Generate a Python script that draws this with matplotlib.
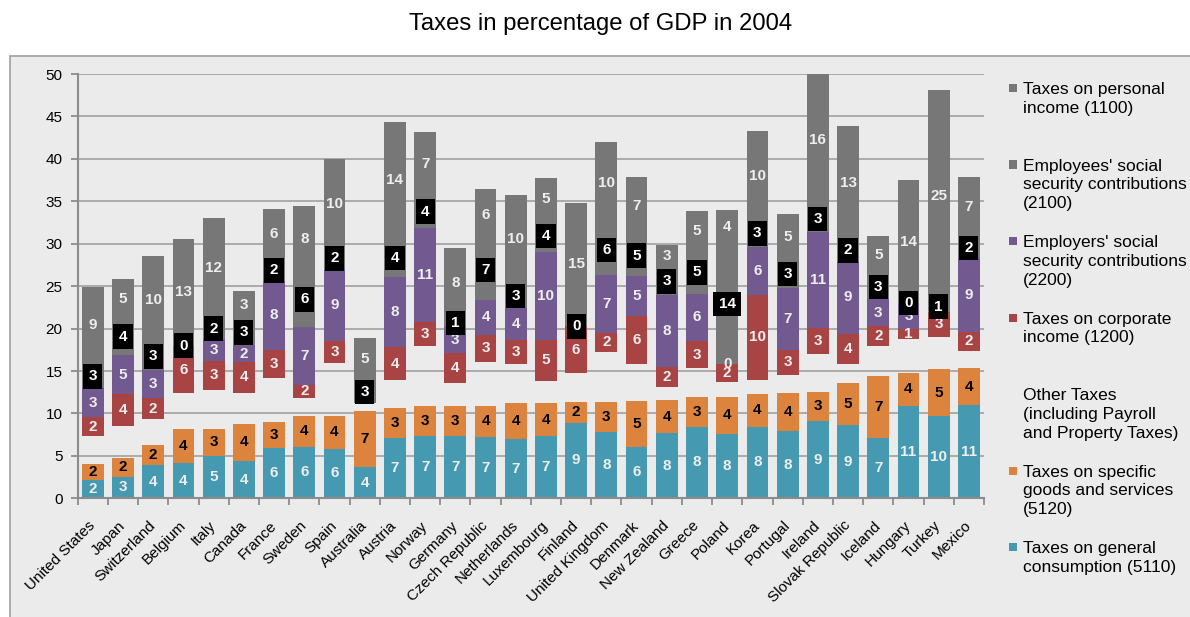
import numpy as np
import matplotlib.pyplot as plt
from matplotlib.patches import Rectangle

plt.rcParams['font.family'] = ['Liberation Sans', 'DejaVu Sans']

countries = ['United States', 'Japan', 'Switzerland', 'Belgium', 'Italy', 'Canada',
             'France', 'Sweden', 'Spain', 'Australia', 'Austria', 'Norway', 'Germany',
             'Czech Republic', 'Netherlands', 'Luxembourg', 'Finland', 'United Kingdom',
             'Denmark', 'New Zealand', 'Greece', 'Poland', 'Korea', 'Portugal',
             'Ireland', 'Slovak Republic', 'Iceland', 'Hungary', 'Turkey', 'Mexico']

# % of GDP, bottom to top of each column
general = [2.16, 2.55, 3.93, 4.12, 4.99, 4.40, 5.97, 6.09, 5.85, 3.69, 7.15, 7.38, 7.38,
           7.23, 6.99, 7.38, 8.92, 7.86, 6.09, 7.66, 8.44, 7.55, 8.44, 7.93, 9.11,
           8.64, 7.15, 10.92, 9.74, 11.00]
specific = [1.89, 2.20, 2.35, 4.05, 3.18, 4.36, 3.02, 3.61, 3.85, 6.64, 3.45, 3.45, 3.45,
            3.69, 4.28, 3.81, 2.47, 3.45, 5.42, 3.93, 3.45, 4.43, 3.85, 4.45, 3.45,
            4.99, 7.26, 3.89, 5.45, 4.32]
other = [3.29, 3.77, 3.07, 4.20, 4.60, 3.69, 5.23, 2.16, 6.21, 0.85, 3.34, 7.16, 2.72,
         5.18, 4.56, 2.67, 3.34, 5.97, 4.28, 1.57, 3.43, 1.77, 1.65, 2.15, 4.45,
         2.16, 3.54, 3.96, 3.86, 2.04]
corporate = [2.20, 3.77, 2.45, 5.55, 3.45, 3.60, 3.26, 1.55, 2.60, 0.00, 3.85, 2.83, 3.54,
             3.15, 2.83, 4.80, 5.55, 2.16, 5.69, 2.35, 3.22, 2.08, 10.02, 2.95, 3.02,
             3.60, 2.36, 1.14, 2.90, 2.28]
employers = [3.40, 4.55, 3.34, 0.05, 2.55, 2.02, 8.17, 6.82, 8.55, 0.00, 8.33, 11.07, 3.07,
             4.12, 3.73, 10.41, 0.00, 6.88, 4.72, 8.45, 5.54, 0.00, 5.69, 7.34, 11.39,
             8.60, 3.14, 3.10, 0.05, 8.64]
employees = [2.90, 4.40, 3.14, 0.00, 2.45, 2.98, 2.45, 6.45, 2.45, 2.70, 4.40, 3.78, 1.00,
             7.06, 2.90, 3.68, 0.00, 5.88, 4.78, 3.22, 5.10, 14.14, 3.14, 3.22, 2.98,
             2.45, 2.90, 0.00, 1.20, 2.45]
personal = [9.06, 4.60, 10.27, 12.59, 11.81, 3.38, 5.99, 7.81, 10.45, 5.01, 13.86, 7.45, 8.38,
            6.02, 10.45, 4.96, 14.55, 9.83, 6.92, 2.67, 4.68, 4.00, 10.45, 5.46, 15.60,
            13.43, 4.56, 14.45, 24.86, 7.09]

series = [
    # values, bar colour, label colour, label style
    (general, '#4599b0', '#eeeeee', 'plain'),
    (specific, '#dc843d', 'black', 'plain'),
    (other, 'none', None, None),
    (corporate, '#a84444', '#eeeeee', 'plain'),
    (employers, '#72598f', '#eeeeee', 'plain'),
    (employees, '#777777', 'white', 'box'),
    (personal, '#777777', '#eeeeee', 'plain'),
]

legend_names = ["Taxes on personal\nincome (1100)",
                "Employees' social\nsecurity contributions\n(2100)",
                "Employers' social\nsecurity contributions\n(2200)",
                "Taxes on corporate\nincome (1200)",
                "Other Taxes\n(including Payroll\nand Property Taxes)",
                "Taxes on specific\ngoods and services\n(5120)",
                "Taxes on general\nconsumption (5110)"]
legend_colors = ['#777777', '#777777', '#72598f', '#a84444', None, '#dc843d', '#4599b0']

W, H = 1190, 617
fig = plt.figure(figsize=(W / 100, H / 100), dpi=100, facecolor='white')
fig.patches.append(Rectangle((10 / W, -0.1), 1.2, 1 - 56 / H + 0.1, transform=fig.transFigure,
                             facecolor='#ebebeb', edgecolor='#a0a0a0', lw=1.2, zorder=-10))
fig.text(0.505, 1 - 24 / H, 'Taxes in percentage of GDP in 2004', ha='center', va='center',
         fontsize=17.2)

ax = fig.add_axes([77.7 / W, 1 - 498.3 / H, (984 - 77.7) / W, (498.3 - 74) / H])
ax.set_facecolor('none')

x = np.arange(len(countries))
bottom = np.zeros(len(countries))
for vals, col, tcol, style in series:
    vals = np.array(vals)
    if col != 'none':
        ax.bar(x, vals, 0.72, bottom=bottom, color=col, zorder=2)
    if tcol is not None:
        for i in range(len(x)):
            y = bottom[i] + vals[i] / 2
            if y > 50:
                continue
            s = '%d' % round(vals[i])
            if style == 'box':
                ax.text(x[i], y, s, ha='center', va='center', fontsize=11, fontweight='bold',
                        color=tcol, zorder=5,
                        bbox=dict(boxstyle='square,pad=0.35', fc='black', ec='none'))
            else:
                ax.text(x[i], y, s, ha='center', va='center', fontsize=11, fontweight='bold',
                        color=tcol, zorder=4)
    bottom = bottom + vals

ax.set_xlim(-0.5, len(countries) - 0.5)
ax.set_ylim(0, 50)
ax.set_yticks(np.arange(0, 51, 5))
ax.yaxis.grid(True, color='#a6a6a6', lw=1.3)
ax.set_axisbelow(True)
for sp in ['top', 'right']:
    ax.spines[sp].set_visible(False)
for sp in ['left', 'bottom']:
    ax.spines[sp].set_color('#8c8c8c')
    ax.spines[sp].set_linewidth(1.5)
ax.tick_params(axis='y', length=5, color='#8c8c8c', width=1.3, labelsize=11, pad=6)
ax.set_xticks(x)
ax.set_xticklabels(countries, rotation=45, ha='right', va='center', rotation_mode='anchor',
                   fontsize=11)
ax.tick_params(axis='x', which='major', length=0, pad=18)
ax.set_xticks(np.arange(-0.5, len(countries), 1), minor=True)
ax.tick_params(axis='x', which='minor', length=5, color='#8c8c8c', width=1.3)

# legend, one slot per entry like the original
for k, (name, col) in enumerate(zip(legend_names, legend_colors)):
    yc = 88 + 76.5 * k
    if col is not None:
        fig.patches.append(Rectangle((1009 / W, 1 - (yc + 4) / H), 8 / W, 8 / H,
                                     transform=fig.transFigure, facecolor=col, edgecolor='none'))
    fig.text(1023 / W, 1 - (yc - 6) / H, name, ha='left', va='top', fontsize=12.5,
             linespacing=1.32)

plt.savefig('out.png', dpi=100, facecolor='white')
